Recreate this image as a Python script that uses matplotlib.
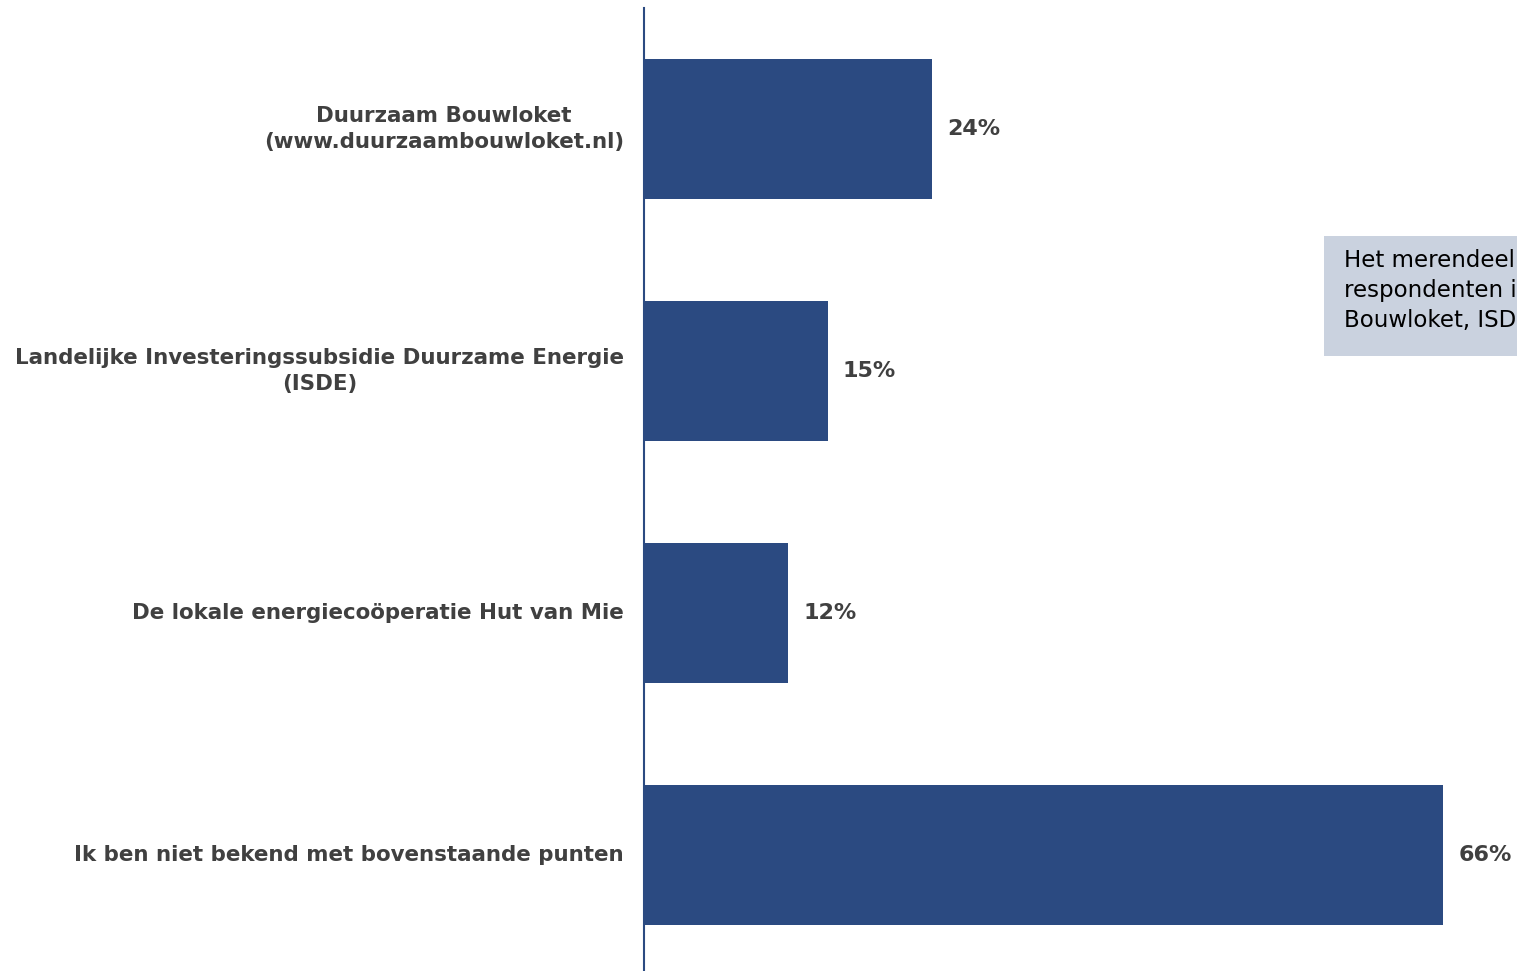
import matplotlib
matplotlib.use("Agg")
import matplotlib.pyplot as plt
from matplotlib.patches import Rectangle

# data
categories = [
    "Duurzaam Bouwloket\n(www.duurzaambouwloket.nl)",
    "Landelijke Investeringssubsidie Duurzame Energie\n(ISDE)",
    "De lokale energiecoöperatie Hut van Mie",
    "Ik ben niet bekend met bovenstaande punten",
]
values = [24.0, 15.3, 12.0, 66.6]
value_labels = ["24%", "15%", "12%", "66%"]

note_text = "Het merendeel van de\nrespondenten is niet bekend met\nBouwloket, ISDE en Hut van Mie"

W, H = 1517, 971
fig = plt.figure(figsize=(W / 100, H / 100), dpi=100)
ax = fig.add_axes([644 / W, (971 - 976) / H, (W - 644) / W, 968 / H])

navy = "#2B4A81"
grey = "#404040"

ypos = list(range(len(categories)))
ax.barh(ypos, values, height=0.578, color=navy)
ax.set_ylim(len(categories) - 0.5, -0.5)
ax.set_xlim(0, (W - 644) / 12.0)

for y, v, lab in zip(ypos, values, value_labels):
    ax.annotate(lab, (v, y), xytext=(11, 0), textcoords="offset points",
                ha="left", va="center", fontsize=16, fontweight="bold",
                color=grey, annotation_clip=False)

ax.set_yticks(ypos)
ax.set_yticklabels(categories, fontsize=15.4, fontweight="bold", color=grey,
                   multialignment="center", linespacing=1.4, va="center")
ax.tick_params(axis="y", length=0, pad=14.4)
ax.set_xticks([])

for s in ["top", "right", "bottom"]:
    ax.spines[s].set_visible(False)
ax.spines["left"].set_color(navy)
ax.spines["left"].set_linewidth(1.5)

# side note box, cut off by the figure edge as in the reference
box = Rectangle((1324 / W, 1 - 356 / H), 260 / W, 120 / H,
                transform=fig.transFigure, facecolor="#CAD2DF",
                edgecolor="none")
fig.add_artist(box)
fig.text(1344 / W, 1 - 249 / H, note_text, fontsize=16.5, color="black",
         ha="left", va="top", linespacing=1.4)

fig.savefig("out.png", dpi=100)
